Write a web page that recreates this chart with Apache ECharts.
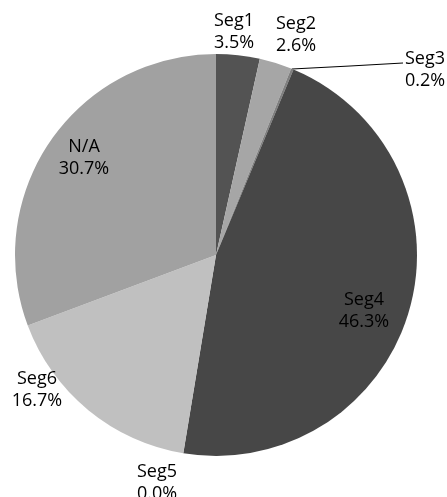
<!DOCTYPE html>
<html>
<head>
<meta charset="utf-8">
<script src="https://cdn.jsdelivr.net/npm/echarts@6/dist/echarts.min.js"></script>
<style>
html,body{margin:0;padding:0;background:#fff;}
#chart{width:447px;height:497px;}
</style>
</head>
<body>
<div id="chart"></div>
<script>
var categories = ['Seg1', 'Seg2', 'Seg3', 'Seg4', 'Seg5', 'Seg6', 'N/A'];
var percentages = [3.5, 2.6, 0.2, 46.3, 0.0, 16.7, 30.7];
var sliceColors = ['#535353', '#a6a6a6', '#7f7f7f', '#474747', '#e0e0e0', '#c0c0c0', '#a1a1a1'];

// label anchor positions (pixel centres of each two-line label block)
var labelPos = [[234, 32], [296, 35], [425, 70], [364, 311], [157, 483], [37, 390], [84, 158]];

var chart = echarts.init(document.getElementById('chart'), null, {renderer: 'canvas'});

var data = categories.map(function (c, i) {
  return {
    name: c,
    value: percentages[i],
    itemStyle: {color: sliceColors[i]},
    labelLine: {show: c === 'Seg3', lineStyle: {color: '#000', width: 1}}
  };
});

chart.setOption({
  animation: false,
  series: [{
    type: 'pie',
    center: [216, 255],
    radius: 201,
    startAngle: 90,
    clockwise: true,
    avoidLabelOverlap: false,
    itemStyle: {borderWidth: 0},
    label: {
      show: true,
      position: 'outside',
      color: '#000',
      fontFamily: 'Open Sans',
      fontSize: 18,
      lineHeight: 22,
      align: 'center',
      formatter: function (p) {
        return p.name + '\n' + p.value.toFixed(1) + '%';
      }
    },
    labelLine: {show: false},
    labelLayout: function (params) {
      var pos = labelPos[params.dataIndex];
      var out = {x: pos[0], y: pos[1], align: 'center', verticalAlign: 'middle'};
      if (params.dataIndex === 2) {
        out.labelLinePoints = [[292, 69], [350, 66], [403, 63]];
      }
      return out;
    },
    data: data
  }]
});
</script>
</body>
</html>
